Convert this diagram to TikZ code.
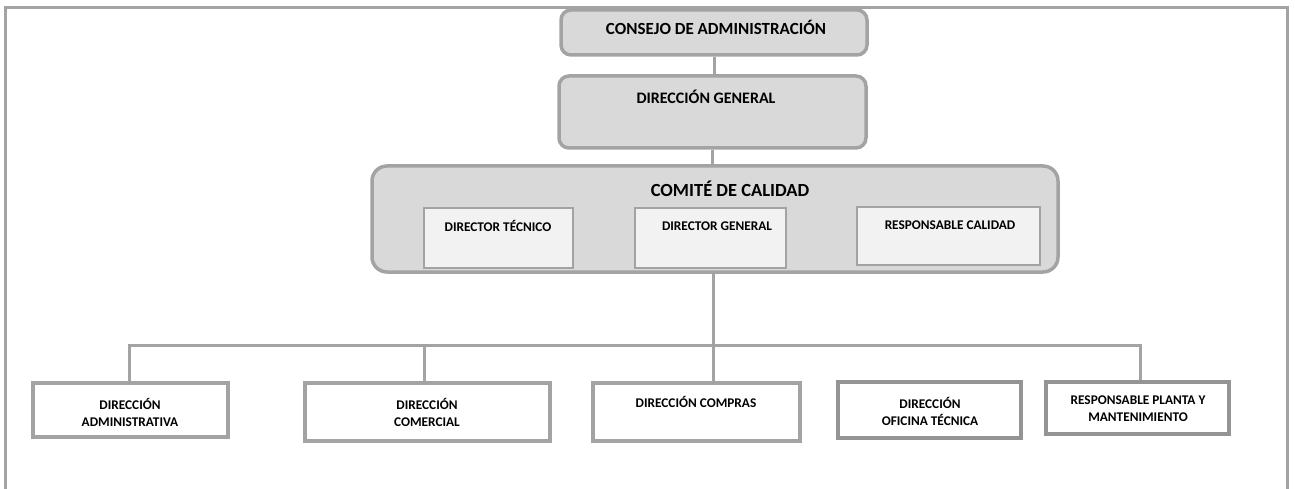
\documentclass[tikz,border=0pt]{standalone}
\usepackage{fontspec}
\setmainfont{Carlito}
\definecolor{edge}{HTML}{A3A3A3}
\definecolor{edgedark}{HTML}{949494}
\definecolor{boxfill}{HTML}{D9D9D9}
\definecolor{innerfill}{HTML}{F2F2F2}
\begin{document}
\begin{tikzpicture}[x=1pt,y=-1pt,
  frameline/.style={draw=edge,line width=3pt},
  conn/.style={draw=edge,line width=3pt},
  roundbox/.style={draw=edge,fill=boxfill,line width=3.5pt,rounded corners=10pt,inner sep=0pt},
  innerbox/.style={draw=edge,fill=innerfill,line width=1.5pt,inner sep=0pt},
  unitbox/.style={draw=edge,fill=white,line width=3.5pt,inner sep=0pt},
  lbl/.style={inner sep=0pt,font=\bfseries,align=center},
  biglbl/.style={lbl,font=\fontsize{16}{19}\selectfont\bfseries},
  smalllbl/.style={lbl,font=\fontsize{13.3}{17}\selectfont\bfseries}
]
\useasboundingbox (0,0) rectangle (1295,489);
% frame
\draw[frameline] (5,489) -- (5,8) -- (1287,8) -- (1287,489);

% boxes
\node[roundbox,minimum width=306pt,minimum height=45pt] (consejo) at (714,32.5) {};
\node[roundbox,minimum width=307pt,minimum height=72pt] (dg) at (712.5,112) {};
\node[roundbox,rounded corners=15pt,minimum width=686pt,minimum height=106pt] (comite) at (715,219) {};

% connectors
\coordinate (j) at (713,345);
\draw[conn] (consejo.south) -- (consejo.south |- dg.north);
\draw[conn] (dg.south) -- (dg.south |- comite.north);

\node[innerbox,minimum width=149pt,minimum height=60pt] (dt) at (498.5,238) {};
\node[innerbox,minimum width=151pt,minimum height=60pt] (dgen) at (710.5,238) {};
\node[innerbox,minimum width=183pt,minimum height=58pt] (rc) at (948.5,236) {};

\coordinate (dav) at (129,345);
\coordinate (dcv) at (424,345);
\coordinate (rpmv) at (1140,345);

\draw[conn] (j |- comite.south) -- (j) -- (j |- 0,383);
\draw[conn] (dav |- 0,383) -- (dav) -- (rpmv) -- (rpmv |- 0,382);
\draw[conn] (dcv) -- (dcv |- 0,383);

\node[unitbox,minimum width=195pt,minimum height=54pt] (da) at (130.5,410) {};
\node[unitbox,minimum width=245pt,minimum height=58pt] (dc) at (427.5,412) {};
\node[unitbox,minimum width=207pt,minimum height=58pt] (dcomp) at (696.5,412) {};
\node[unitbox,draw=edgedark,minimum width=183pt,minimum height=56pt] (dot) at (929.5,410) {};
\node[unitbox,draw=edgedark,minimum width=183pt,minimum height=52pt] (rpm) at (1137.5,408) {};

% labels
\node[lbl,font=\fontsize{17}{20}\selectfont\bfseries] (tconsejo) at (716,27) {CONSEJO DE ADMINISTRACIÓN};
\node[lbl,font=\fontsize{16}{19}\selectfont\bfseries] (tdg) at (706,97) {DIRECCIÓN GENERAL};
\node[lbl,font=\fontsize{18.5}{21}\selectfont\bfseries] (tcomite) at (730,189) {COMITÉ DE CALIDAD};
\node[smalllbl] (tdt) at (498,226) {DIRECTOR TÉCNICO};
\node[smalllbl] (tdgen) at (717,226) {DIRECTOR GENERAL};
\node[smalllbl] (trc) at (950,225) {RESPONSABLE CALIDAD};
\node[smalllbl] (tda) at (130,412.5) {DIRECCIÓN\\ADMINISTRATIVA};
\node[smalllbl] (tdc) at (427,412.5) {DIRECCIÓN\\COMERCIAL};
\node[smalllbl] (tdcomp) at (696,402) {DIRECCIÓN COMPRAS};
\node[smalllbl] (tdot) at (930,411.5) {DIRECCIÓN\\OFICINA TÉCNICA};
\node[smalllbl] (trpm) at (1138,408.5) {RESPONSABLE PLANTA Y\\MANTENIMIENTO};
\end{tikzpicture}
\end{document}
